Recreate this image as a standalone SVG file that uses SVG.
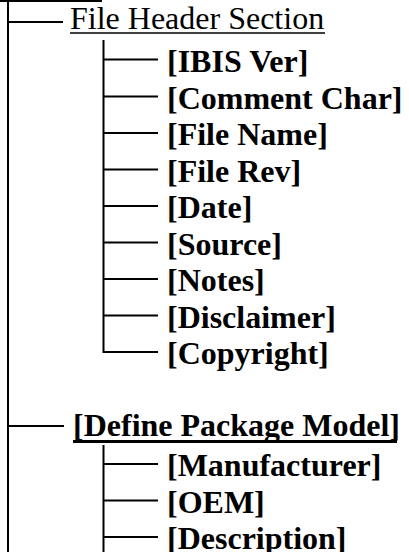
<svg xmlns="http://www.w3.org/2000/svg" width="409" height="552" viewBox="0 0 409 552">
<style>
.t{font-family:"Liberation Serif","Times New Roman",serif;font-size:32px;fill:#000}
.b{font-weight:bold}
.c{stroke:#000;stroke-width:2;fill:none}
</style>
<rect width="409" height="552" fill="#fff"/>
<g id="top-underline"><line x1="0" y1="1" x2="102" y2="1" stroke="#000" stroke-width="2"/></g>
<g id="connectors" class="c">
<line x1="8" y1="0" x2="8" y2="552"/>
<line x1="8" y1="22" x2="63" y2="22"/>
<line x1="8" y1="426" x2="64" y2="426"/>
<path d="M103.5 40 V352 H158"/>
<line x1="103.5" y1="59.5" x2="158" y2="59.5"/>
<line x1="103.5" y1="96.5" x2="158" y2="96.5"/>
<line x1="103.5" y1="133" x2="158" y2="133"/>
<line x1="103.5" y1="169.5" x2="158" y2="169.5"/>
<line x1="103.5" y1="206" x2="158" y2="206"/>
<line x1="103.5" y1="242.5" x2="158" y2="242.5"/>
<line x1="103.5" y1="279" x2="158" y2="279"/>
<line x1="103.5" y1="315.5" x2="158" y2="315.5"/>
<path d="M103.5 445 V552"/>
<line x1="103.5" y1="464" x2="158" y2="464"/>
<line x1="103.5" y1="500.5" x2="158" y2="500.5"/>
<line x1="103.5" y1="537" x2="158" y2="537"/>
</g>
<g id="file-header-section">
<text class="t" x="70" y="29">File Header Section</text>
<line x1="70" y1="33" x2="325" y2="33" stroke="#000" stroke-width="1.6"/>
</g>
<g id="ibis-ver"><text class="t b" x="167" y="72">[IBIS Ver]</text></g>
<g id="comment-char"><text class="t b" x="167" y="108.5">[Comment Char]</text></g>
<g id="file-name"><text class="t b" x="167" y="145">[File Name]</text></g>
<g id="file-rev"><text class="t b" x="167" y="181.5">[File Rev]</text></g>
<g id="date"><text class="t b" x="167" y="218">[Date]</text></g>
<g id="source"><text class="t b" x="167" y="254.5">[Source]</text></g>
<g id="notes"><text class="t b" x="167" y="291">[Notes]</text></g>
<g id="disclaimer"><text class="t b" x="167" y="327.5">[Disclaimer]</text></g>
<g id="copyright"><text class="t b" x="167" y="364">[Copyright]</text></g>
<g id="define-package-model">
<text class="t b" x="73" y="436">[Define Package Model]</text>
<line x1="73" y1="441.5" x2="397" y2="441.5" stroke="#000" stroke-width="3"/>
</g>
<g id="manufacturer"><text class="t b" x="167" y="476">[Manufacturer]</text></g>
<g id="oem"><text class="t b" x="167" y="512.5">[OEM]</text></g>
<g id="description"><text class="t b" x="167" y="549">[Description]</text></g>
</svg>
